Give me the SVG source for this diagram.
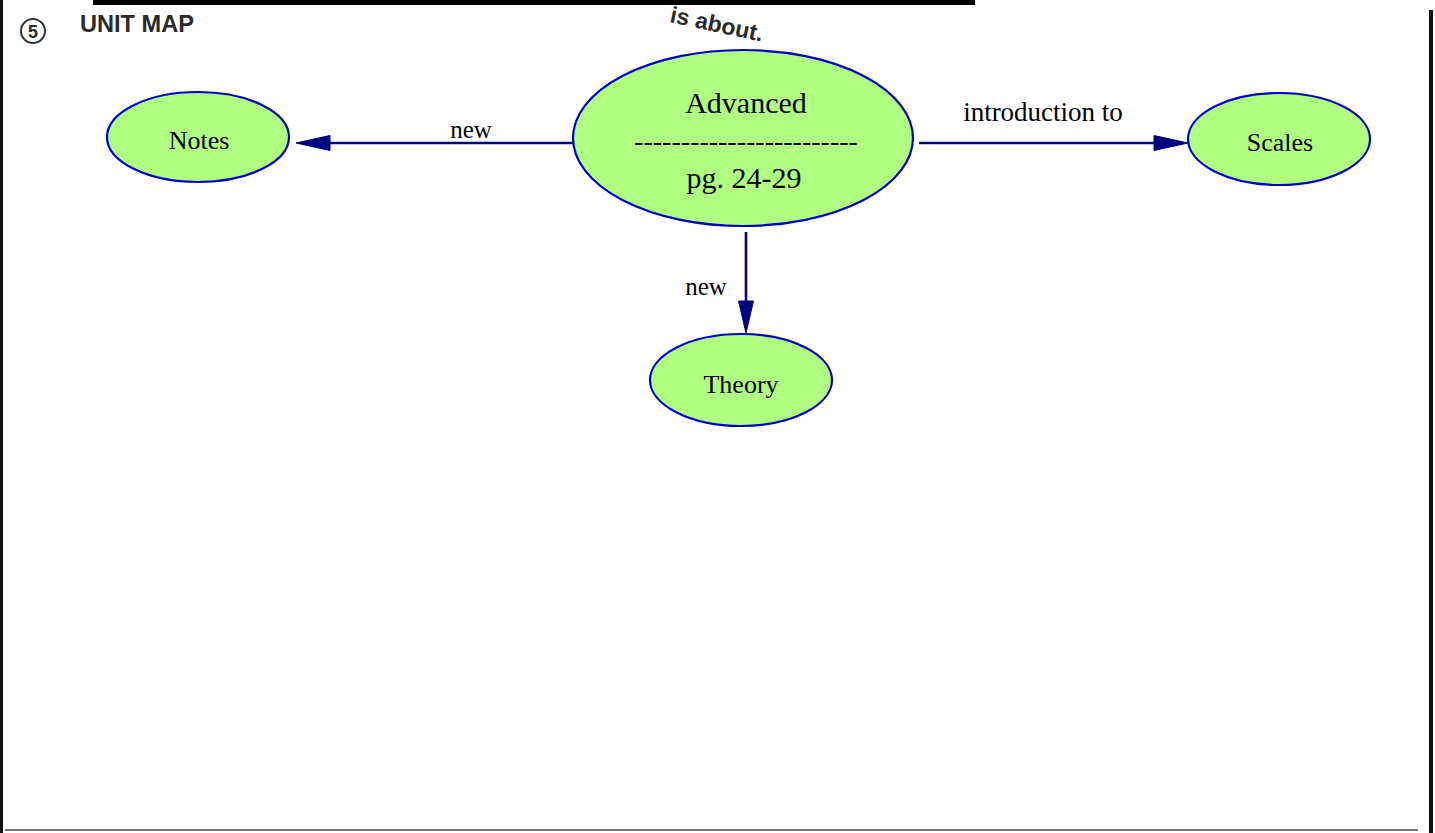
<svg xmlns="http://www.w3.org/2000/svg" width="1435" height="833" viewBox="0 0 1435 833">
<style>
.node ellipse{fill:#b0ff80;stroke:#0000cc;stroke-width:2.2}
.node text{font-family:"Liberation Serif","Times New Roman",serif;fill:#000;text-anchor:middle}
.lbl{font-family:"Liberation Serif","Times New Roman",serif;font-size:25px;fill:#000;text-anchor:middle}
.edge{stroke:#000080;stroke-width:2.6;fill:none}
.head{fill:#000080;stroke:#000080;stroke-width:1}
.hdr{font-family:"Liberation Sans",Arial,sans-serif;font-weight:bold;fill:#2a2a2a}
</style>
<rect x="0" y="0" width="1435" height="833" fill="#fff"/>
<g id="frame">
<rect x="93" y="0" width="882" height="5" fill="#000"/>
<rect x="0" y="0" width="3" height="833" fill="#111"/>
<rect x="1429" y="10" width="4" height="823" fill="#111"/>
<rect x="5" y="829" width="1413" height="2" fill="#777"/>
</g>
<g id="header">
<circle cx="33" cy="31" r="12" fill="none" stroke="#333" stroke-width="2"/>
<text class="hdr" x="33" y="38" font-size="18" text-anchor="middle">5</text>
<text class="hdr" x="80" y="32" font-size="23" textLength="114" lengthAdjust="spacingAndGlyphs">UNIT MAP</text>
<text class="hdr" x="669" y="22" font-size="23" transform="rotate(12 669 22)" fill="#222">is about.</text>
</g>
<g id="connectors">
<line class="edge" x1="573" y1="143" x2="325" y2="143"/>
<polygon class="head" points="296,143 330,135.5 330,150.5"/>
<text class="lbl" x="471" y="138">new</text>
<line class="edge" x1="919" y1="143" x2="1160" y2="143"/>
<polygon class="head" points="1188,143 1154,135.5 1154,150.5"/>
<text class="lbl" x="1043" y="121" style="font-size:27px">introduction to</text>
<line class="edge" x1="746" y1="232" x2="746" y2="305"/>
<polygon class="head" points="746,333 738.5,301 753.5,301"/>
<text class="lbl" x="706" y="295">new</text>
</g>
<g id="node-advanced" class="node">
<ellipse cx="743" cy="138" rx="170" ry="88"/>
<text x="746" y="113" font-size="30">Advanced</text>
<text x="746" y="150" font-size="28">------------------------</text>
<text x="744" y="188" font-size="30">pg. 24-29</text>
</g>
<g id="node-notes" class="node">
<ellipse cx="198" cy="137" rx="91" ry="45"/>
<text x="199" y="149" font-size="26">Notes</text>
</g>
<g id="node-scales" class="node">
<ellipse cx="1279" cy="139" rx="91" ry="46"/>
<text x="1280" y="151" font-size="26">Scales</text>
</g>
<g id="node-theory" class="node">
<ellipse cx="741" cy="380" rx="91" ry="46"/>
<text x="741" y="393" font-size="26">Theory</text>
</g>
</svg>
